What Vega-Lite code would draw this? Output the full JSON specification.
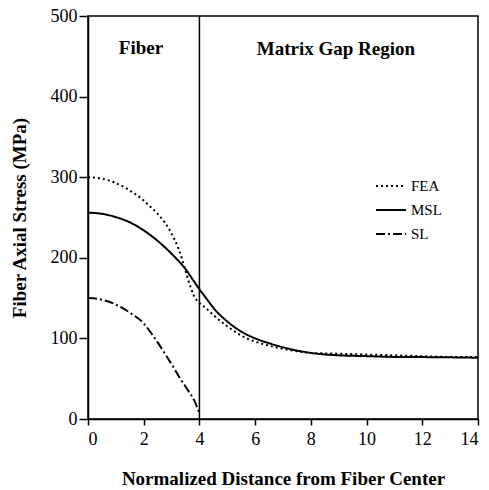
{
  "$schema": "https://vega.github.io/schema/vega-lite/v6.json",
  "width": 390,
  "height": 403,
  "autosize": {"type": "none"},
  "padding": {"left": 88, "top": 16, "right": 11, "bottom": 71},
  "background": "white",
  "datasets": {
    "curves": [
      {"model": "FEA", "x": 0, "y": 300}, {"model": "FEA", "x": 0.5, "y": 298.2}, {"model": "FEA", "x": 1.0, "y": 292.7}, {"model": "FEA", "x": 1.5, "y": 283.5}, {"model": "FEA", "x": 2.0, "y": 271}, {"model": "FEA", "x": 2.25, "y": 263}, {"model": "FEA", "x": 2.5, "y": 254.5}, {"model": "FEA", "x": 2.75, "y": 244}, {"model": "FEA", "x": 3.0, "y": 230}, {"model": "FEA", "x": 3.25, "y": 211}, {"model": "FEA", "x": 3.4, "y": 196}, {"model": "FEA", "x": 3.55, "y": 178}, {"model": "FEA", "x": 3.7, "y": 162}, {"model": "FEA", "x": 3.8, "y": 153}, {"model": "FEA", "x": 3.9, "y": 147.5}, {"model": "FEA", "x": 4.0, "y": 144}, {"model": "FEA", "x": 4.25, "y": 137}, {"model": "FEA", "x": 4.5, "y": 129}, {"model": "FEA", "x": 5.0, "y": 115}, {"model": "FEA", "x": 5.5, "y": 103.5}, {"model": "FEA", "x": 6.0, "y": 96}, {"model": "FEA", "x": 6.5, "y": 91}, {"model": "FEA", "x": 7.0, "y": 87}, {"model": "FEA", "x": 7.5, "y": 84}, {"model": "FEA", "x": 8.0, "y": 82}, {"model": "FEA", "x": 9.0, "y": 81}, {"model": "FEA", "x": 10.0, "y": 80}, {"model": "FEA", "x": 11.0, "y": 79}, {"model": "FEA", "x": 12.0, "y": 78}, {"model": "FEA", "x": 13.0, "y": 77}, {"model": "FEA", "x": 14.0, "y": 77},
      {"model": "MSL", "x": 0, "y": 256}, {"model": "MSL", "x": 0.5, "y": 254.6}, {"model": "MSL", "x": 1.0, "y": 250.5}, {"model": "MSL", "x": 1.5, "y": 244}, {"model": "MSL", "x": 2.0, "y": 234}, {"model": "MSL", "x": 2.5, "y": 221}, {"model": "MSL", "x": 3.0, "y": 205}, {"model": "MSL", "x": 3.5, "y": 186}, {"model": "MSL", "x": 3.8, "y": 171}, {"model": "MSL", "x": 4.0, "y": 161}, {"model": "MSL", "x": 4.25, "y": 149.5}, {"model": "MSL", "x": 4.5, "y": 138}, {"model": "MSL", "x": 5.0, "y": 121}, {"model": "MSL", "x": 5.5, "y": 108.5}, {"model": "MSL", "x": 6.0, "y": 100}, {"model": "MSL", "x": 6.5, "y": 94}, {"model": "MSL", "x": 7.0, "y": 89}, {"model": "MSL", "x": 7.5, "y": 85}, {"model": "MSL", "x": 8.0, "y": 82}, {"model": "MSL", "x": 9.0, "y": 79}, {"model": "MSL", "x": 10.0, "y": 78}, {"model": "MSL", "x": 11.0, "y": 77}, {"model": "MSL", "x": 12.0, "y": 76.8}, {"model": "MSL", "x": 13.0, "y": 76.5}, {"model": "MSL", "x": 14.0, "y": 76},
      {"model": "SL", "x": 0, "y": 150}, {"model": "SL", "x": 0.5, "y": 148}, {"model": "SL", "x": 1.0, "y": 142}, {"model": "SL", "x": 1.5, "y": 132}, {"model": "SL", "x": 2.0, "y": 118.5}, {"model": "SL", "x": 2.25, "y": 107.5}, {"model": "SL", "x": 2.5, "y": 95}, {"model": "SL", "x": 2.8, "y": 79}, {"model": "SL", "x": 3.0, "y": 68}, {"model": "SL", "x": 3.33, "y": 49}, {"model": "SL", "x": 3.6, "y": 35}, {"model": "SL", "x": 3.8, "y": 24}, {"model": "SL", "x": 4.0, "y": 7}
    ],
    "labels": [
      {"x": 1.9, "y": 453, "label": "Fiber"},
      {"x": 8.9, "y": 452, "label": "Matrix Gap Region"}
    ],
    "divider": [{"x": 4, "y0": 0, "y1": 500}]
  },
  "layer": [
    {
      "data": {"name": "curves"},
      "mark": {"type": "line", "color": "black", "strokeWidth": 2, "interpolate": "monotone"},
      "encoding": {
        "x": {"field": "x", "type": "quantitative", "scale": {"domain": [0, 14], "nice": false},
          "axis": {"title": "Normalized Distance from Fiber Center", "values": [0, 2, 4, 6, 8, 10, 12, 14], "tickSize": 6, "labelPadding": 5, "titlePadding": 21}},
        "y": {"field": "y", "type": "quantitative", "scale": {"domain": [0, 500], "nice": false},
          "axis": {"title": "Fiber Axial Stress (MPa)", "values": [0, 100, 200, 300, 400, 500], "tickSize": 9, "labelPadding": 2, "titlePadding": 21}},
        "strokeDash": {"field": "model", "type": "nominal",
          "scale": {"domain": ["FEA", "MSL", "SL"], "range": [[2, 3], [1, 0], [9, 3, 2, 3]]},
          "legend": {"title": null, "orient": "none", "legendX": 287, "legendY": 154}}
      }
    },
    {
      "data": {"name": "divider"},
      "mark": {"type": "rule", "color": "black", "strokeWidth": 1.5},
      "encoding": {
        "x": {"field": "x", "type": "quantitative"},
        "y": {"field": "y0", "type": "quantitative"},
        "y2": {"field": "y1"}
      }
    },
    {
      "data": {"name": "labels"},
      "mark": {"type": "text", "font": "Liberation Serif", "fontSize": 19, "fontWeight": "bold", "color": "black", "align": "center", "baseline": "alphabetic"},
      "encoding": {
        "x": {"field": "x", "type": "quantitative"},
        "y": {"field": "y", "type": "quantitative"},
        "text": {"field": "label", "type": "nominal"}
      }
    }
  ],
  "config": {
    "view": {"stroke": "black", "strokeWidth": 1.5},
    "axis": {"grid": false, "domainColor": "black", "domainWidth": 1.5, "tickColor": "black", "tickWidth": 1.5,
      "labelColor": "black", "titleColor": "black", "labelFont": "Liberation Serif", "titleFont": "Liberation Serif",
      "labelFontSize": 18, "titleFontSize": 19, "titleFontWeight": "bold", "labelFontWeight": "normal"},
    "legend": {"symbolType": "stroke", "symbolStrokeColor": "black", "symbolStrokeWidth": 2, "symbolSize": 900,
      "labelFont": "Liberation Serif", "labelFontSize": 15, "labelColor": "black", "labelOffset": 4, "rowPadding": -3}
  }
}
